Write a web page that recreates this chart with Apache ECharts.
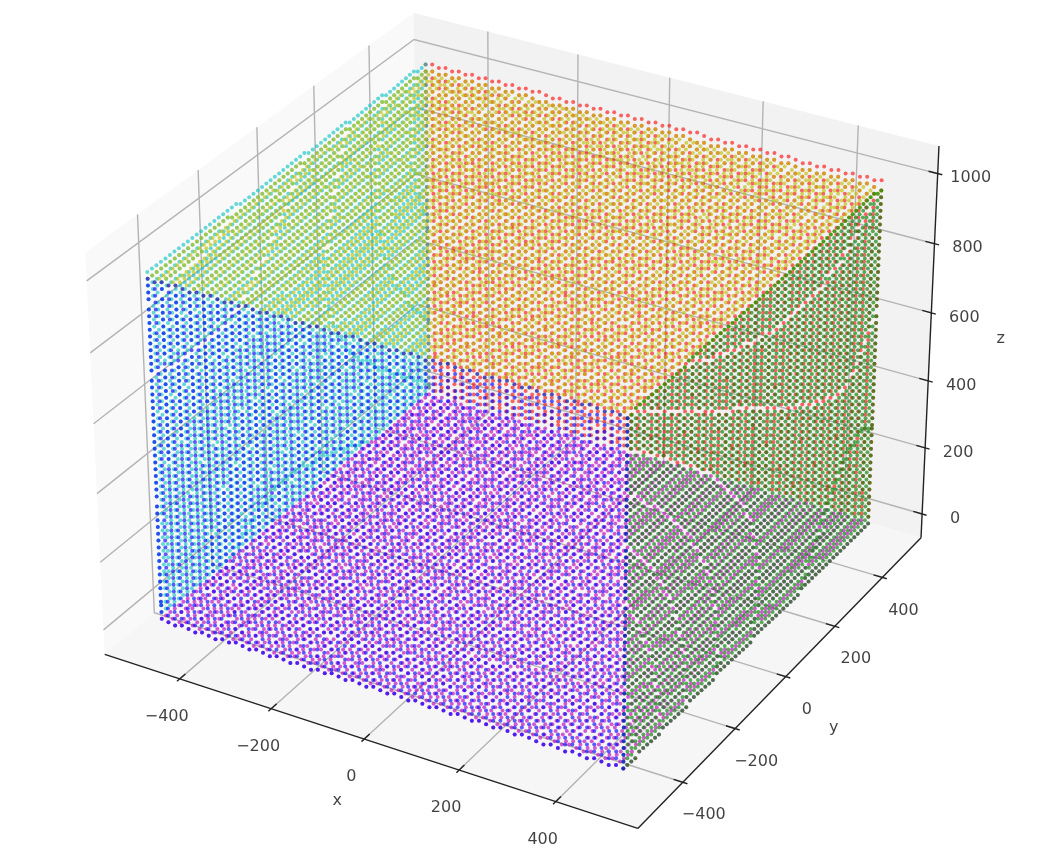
<!DOCTYPE html>
<html style="height: 100%">
<head>
  <meta charset="utf-8">
  <title>cube surface scatter</title>
  <script src="https://cdn.jsdelivr.net/npm/echarts@6/dist/echarts.min.js"></script>
</head>
<body style="height: 100%; margin: 0; background: #fff">
<div id="container" style="width: 1044px; height: 860px"></div>
<script type="text/javascript">
  // tick values and labels
  const xTicks = [-400, -200, 0, 200, 400]
  const yTicks = [-400, -200, 0, 200, 400]
  const zTicks = [0, 200, 400, 600, 800, 1000]
  const xTickLabels = ['−400', '−200', '0', '200', '400']
  const yTickLabels = ['−400', '−200', '0', '200', '400']
  const zTickLabels = ['0', '200', '400', '600', '800', '1000']

  // the lattice levels of the points on the cube faces
  const xLevels = [-491.7, -476.8, -461.9, -447, -432.1, -417.2, -402.3, -387.4, -372.5, -357.6, -342.7, -327.8, -312.9,
    -298, -283.1, -268.2, -253.3, -238.4, -223.5, -208.6, -193.7, -178.8, -163.9, -149, -134.1, -119.2, -104.3, -89.4,
    -74.5, -59.6, -44.7, -29.8, -14.9, 0, 14.9, 29.8, 44.7, 59.6, 74.5, 89.4, 104.3, 119.2, 134.1, 149, 163.9, 178.8,
    193.7, 208.6, 223.5, 238.4, 253.3, 268.2, 283.1, 298, 312.9, 327.8, 342.7, 357.6, 372.5, 387.4, 402.3, 417.2, 432.1,
    447, 461.9, 476.8, 491.7]
  const yLevels = [-485.1, -470.4, -455.7, -441, -426.3, -411.6, -396.9, -382.2, -367.5, -352.8, -338.1, -323.4, -308.7,
    -294, -279.3, -264.6, -249.9, -235.2, -220.5, -205.8, -191.1, -176.4, -161.7, -147, -132.3, -117.6, -102.9, -88.2,
    -73.5, -58.8, -44.1, -29.4, -14.7, 0, 14.7, 29.4, 44.1, 58.8, 73.5, 88.2, 102.9, 117.6, 132.3, 147, 161.7, 176.4,
    191.1, 205.8, 220.5, 235.2, 249.9, 264.6, 279.3, 294, 308.7, 323.4, 338.1, 352.8, 367.5, 382.2, 396.9, 411.6, 426.3,
    441, 455.7, 470.4, 485.1]
  // front and right faces start at 0, back and left faces end at 1000
  const zLevelsLow = [0, 20, 40, 60, 80, 100, 120, 140, 160, 180, 200, 220, 240, 260, 280, 300, 320, 340, 360, 380, 400,
    420, 440, 460, 480, 500, 520, 540, 560, 580, 600, 620, 640, 660, 680, 700, 720, 740, 760, 780, 800, 820, 840, 860,
    880, 900, 920, 940, 960, 980]
  const zLevelsHigh = [20, 40, 60, 80, 100, 120, 140, 160, 180, 200, 220, 240, 260, 280, 300, 320, 340, 360, 380, 400,
    420, 440, 460, 480, 500, 520, 540, 560, 580, 600, 620, 640, 660, 680, 700, 720, 740, 760, 780, 800, 820, 840, 860,
    880, 900, 920, 940, 960, 980, 1000]

  // axis box of the 3d view
  const xBox = [-567, 567]
  const yBox = [-567, 567]
  const zBox = [-73, 1078]

  // same camera as a default mplot3d view (elev 30, azim -60, dist 10)
  const boxSize = [1.1905, 1.1905, 0.89286]
  const camU = [0.866, 0.5, 0]
  const camV = [-0.25, 0.433, 0.866]
  const camN = [0.433, -0.75, 0.5]
  const camDist = 10
  const scale = 5130
  const centerX = 520.4
  const centerY = 401
  // the dots sit on rows of this height in the picture
  const rowStep = 3.4

  function rel(x, y, z) {
    return [
      ((x - xBox[0]) / (xBox[1] - xBox[0]) - 0.5) * boxSize[0],
      ((y - yBox[0]) / (yBox[1] - yBox[0]) - 0.5) * boxSize[1],
      ((z - zBox[0]) / (zBox[1] - zBox[0]) - 0.5) * boxSize[2]
    ]
  }
  const dot = (a, b) => a[0] * b[0] + a[1] * b[1] + a[2] * b[2]

  // world -> value on the hidden pixel-sized axes
  function project(x, y, z) {
    let d = rel(x, y, z)
    let w = camDist - dot(d, camN)
    return [centerX + scale * dot(d, camU) / w, centerY - scale * dot(d, camV) / w]
  }

  function faceData(points) {
    return points.map(p => {
      let xy = project(p[0], p[1], p[2])
      return [xy[0], Math.round(xy[1] / rowStep) * rowStep]
    })
  }

  function sidePlaneX(level, zs) {
    let pts = []
    yLevels.forEach(y => zs.forEach(z => pts.push([level, y, z])))
    return pts
  }
  function sidePlaneY(level, zs) {
    let pts = []
    xLevels.forEach(x => zs.forEach(z => pts.push([x, level, z])))
    return pts
  }
  function flatPlane(level) {
    let pts = []
    xLevels.forEach(x => yLevels.forEach(y => pts.push([x, y, level])))
    return pts
  }

  // drawn back to front
  const faces = [
    { color: 'rgba(255,0,0,0.75)', pts: sidePlaneY(485.1, zLevelsHigh) },
    { color: 'rgba(0,191,191,0.75)', pts: sidePlaneX(-491.7, zLevelsHigh) },
    { color: 'rgba(191,0,191,0.8)', pts: flatPlane(0) },
    { color: 'rgba(191,191,0,0.8)', pts: flatPlane(980) },
    { color: 'rgba(0,128,0,0.8)', pts: sidePlaneX(491.7, zLevelsLow) },
    { color: 'rgba(0,0,255,0.8)', pts: sidePlaneY(-485.1, zLevelsLow) }
  ]

  const [x0, x1] = xBox
  const [y0, y1] = yBox
  const [z0, z1] = zBox

  const panes = [
    { color: '#f9f9f9', pts: [[x0, y0, z0], [x0, y1, z0], [x0, y1, z1], [x0, y0, z1]] },
    { color: '#f2f2f2', pts: [[x0, y1, z0], [x1, y1, z0], [x1, y1, z1], [x0, y1, z1]] },
    { color: '#f6f6f6', pts: [[x0, y0, z0], [x1, y0, z0], [x1, y1, z0], [x0, y1, z0]] }
  ]

  // grid lines, tick marks, axis lines as world polylines
  let gridLines = []
  let inkLines = [
    [[x0, y0, z0], [x1, y0, z0]],
    [[x1, y0, z0], [x1, y1, z0]],
    [[x1, y1, z0], [x1, y1, z1]]
  ]
  const yTick = (y1 - y0) / 12
  const xTick = (x1 - x0) / 12
  xTicks.forEach(x => {
    gridLines.push([[x, y0, z0], [x, y1, z0], [x, y1, z1]])
    inkLines.push([[x, y0 + 0.2 * yTick, z0], [x, y0 - 0.1 * yTick, z0]])
  })
  yTicks.forEach(y => {
    gridLines.push([[x1, y, z0], [x0, y, z0], [x0, y, z1]])
    inkLines.push([[x1 - 0.2 * xTick, y, z0], [x1 + 0.1 * xTick, y, z0]])
  })
  zTicks.forEach(z => {
    gridLines.push([[x1, y1, z], [x0, y1, z], [x0, y0, z]])
    inkLines.push([[x1 - 0.2 * xTick, y1, z], [x1 + 0.1 * xTick, y1, z]])
  })

  function polylineSeries(lines, color, width, z) {
    return {
      type: 'custom',
      coordinateSystem: 'cartesian2d',
      silent: true,
      z: z,
      clip: false,
      data: lines.map((l, i) => [i]),
      renderItem: (params, api) => ({
        type: 'polyline',
        shape: { points: lines[params.dataIndex].map(p => api.coord(project(p[0], p[1], p[2]))) },
        style: { stroke: color, lineWidth: width, fill: null }
      })
    }
  }

  // label items: world anchor + pixel shift
  function shifted(p, dx, dy) {
    let xy = project(p[0], p[1], p[2])
    return [xy[0] + dx, xy[1] + dy]
  }
  let labelData = []
  xTicks.forEach((x, i) => labelData.push({ name: xTickLabels[i], value: shifted([x, y0, z0], -13, 38) }))
  yTicks.forEach((y, i) => labelData.push({ name: yTickLabels[i], value: shifted([x1, y, z0], 21, 33) }))
  zTicks.forEach((z, i) => labelData.push({ name: zTickLabels[i], value: shifted([x1, y1, z], 33, 4.5) }))
  labelData.push({ name: 'x', value: shifted([0, y0, z0], -27, 62) })
  labelData.push({ name: 'y', value: shifted([x1, 0, z0], 48, 51) })
  labelData.push({ name: 'z', value: shifted([x1, y1, 500], 71, -8) })

  let myChart = echarts.init(document.getElementById('container'))

  let option = {
    animation: false,
    backgroundColor: '#ffffff',
    grid: { left: 0, right: 0, top: 0, bottom: 0 },
    xAxis: { type: 'value', min: 0, max: 1044, show: false },
    yAxis: { type: 'value', min: 0, max: 860, inverse: true, show: false },
    series: [
      {
        type: 'custom',
        silent: true,
        z: 1,
        data: panes.map((p, i) => [i]),
        renderItem: (params, api) => ({
          type: 'polygon',
          shape: { points: panes[params.dataIndex].pts.map(p => api.coord(project(p[0], p[1], p[2]))) },
          style: { fill: panes[params.dataIndex].color }
        })
      },
      polylineSeries(gridLines, '#b4b4b4', 1.4, 2),
      polylineSeries(inkLines, '#222222', 1.4, 3),
      ...faces.map((f, i) => ({
        type: 'scatter',
        silent: true,
        z: 4 + i,
        symbol: 'circle',
        symbolSize: 4,
        progressive: 0,
        data: faceData(f.pts),
        itemStyle: { color: f.color }
      })),
      {
        type: 'scatter',
        silent: true,
        z: 20,
        symbolSize: 0,
        data: labelData,
        label: {
          show: true,
          position: 'inside',
          formatter: '{b}',
          color: '#111111',
          fontFamily: 'DejaVu Sans',
          fontSize: 16,
          align: 'center',
          verticalAlign: 'middle'
        }
      }
    ]
  }

  myChart.setOption(option, true)
</script>
</body>
</html>
